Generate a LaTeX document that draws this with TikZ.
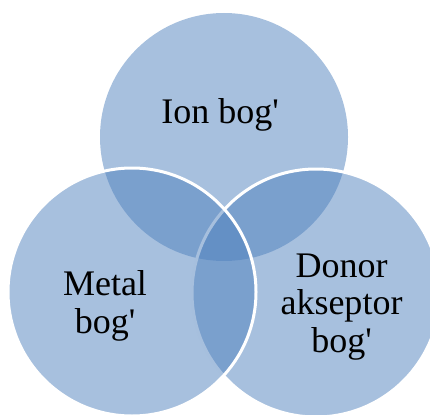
\documentclass[tikz,border=0pt]{standalone}
\usepackage{fontspec}
\setmainfont{Liberation Serif}
\definecolor{vennblue}{HTML}{4F81BD}
\newcommand{\apos}{\textquotesingle}
\begin{document}
\begin{tikzpicture}[x=1pt,y=-1pt,
  venn/.style={circle,minimum size=248pt,inner sep=0pt,outer sep=0pt,fill=vennblue,fill opacity=0.5},
  vennb/.style={venn,draw=white,draw opacity=1,line width=3pt},
  lbl/.style={font=\fontsize{36}{37.5}\selectfont,align=center,anchor=base,inner sep=0pt,text=black}]
\useasboundingbox (0,0) rectangle (430,414);
\begin{scope}
\clip (0,0) rectangle (430,414);
\node[venn] (topc) at (224,137) {};
\node[vennb] (brc) at (316,293) {};
\node[vennb] (blc) at (132,292) {};
\end{scope}
\node[lbl] (ion) at (220,124) {Ion bog\apos};
\node[lbl] (metal) at (105,333) {Metal\\bog\apos};
\node[lbl] (donor) at (341.5,352) {Donor\\akseptor\\bog\apos};
\end{tikzpicture}
\end{document}
